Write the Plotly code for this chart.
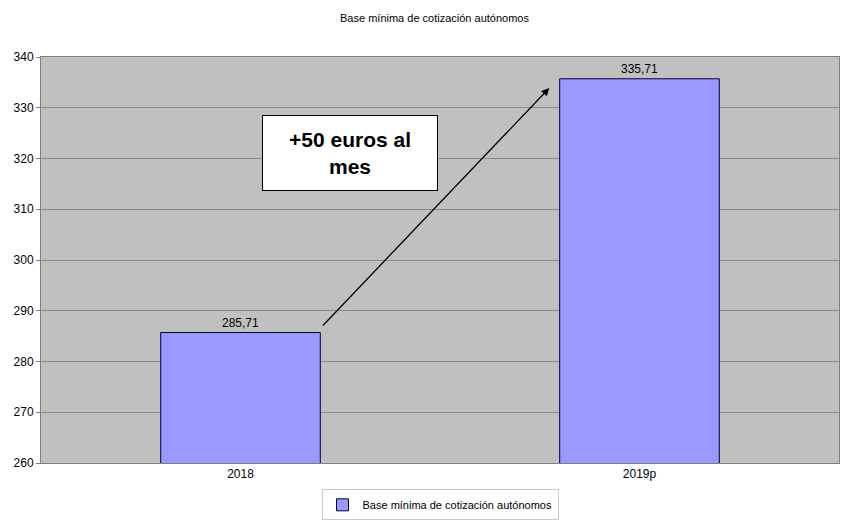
import plotly.graph_objects as go

# datos
categorias = ["2018", "2019p"]
valores = [285.71, 335.71]
serie = "Base mínima de cotización autónomos"
titulo = "Base mínima de cotización autónomos"
nota = "+50 euros al<br>mes"

fig = go.Figure()

fig.add_trace(go.Bar(
    x=categorias,
    y=valores,
    name=serie,
    width=0.4,
    marker=dict(color="#9999ff", line=dict(color="#000033", width=1)),
    text=[f"{v:.2f}".replace(".", ",") for v in valores],
    textposition="outside",
    textfont=dict(size=12, color="black"),
    cliponaxis=False,
    showlegend=True,
))

# flecha de 2018 a 2019p
fig.add_annotation(
    x=0.774, y=333.9, ax=0.203, ay=286.8,
    xref="x", yref="y", axref="x", ayref="y",
    text="", showarrow=True,
    arrowhead=2, arrowsize=1.2, arrowwidth=1.3, arrowcolor="black",
)

# recuadro de texto
fig.add_annotation(
    x=0.274, y=321.1, xref="x", yref="y",
    text=f"<b>{nota}</b>", showarrow=False,
    font=dict(size=21, color="black", family="Liberation Sans, Arial"),
    bgcolor="white", bordercolor="black", borderwidth=1,
    width=172, height=72, align="center",
)

# la página deja 8 px de margen en el body
fig.update_layout(
    title=dict(text=titulo, x=0.5, xanchor="center", y=1 - 10 / 512, yanchor="middle",
               font=dict(size=11, color="black")),
    font=dict(family="Liberation Sans, Arial", size=12, color="black"),
    separators=",.",
    paper_bgcolor="white",
    plot_bgcolor="#c0c0c0",
    margin=dict(l=33, r=22, t=49, b=57, autoexpand=False),
    width=853, height=512,
    bargap=0.6,
    legend=dict(orientation="h", x=0.5, xanchor="center", y=-0.103, yanchor="middle",
                bordercolor="#c8c8c8", borderwidth=1, bgcolor="white",
                font=dict(size=11), itemwidth=30, tracegroupgap=0),
)

fig.update_yaxes(
    range=[260, 340], dtick=10,
    showgrid=True, gridcolor="#8a8a8a", gridwidth=1,
    ticks="outside", ticklen=4, tickcolor="#808080",
    showline=True, linecolor="#808080", mirror=True,
    zeroline=False, automargin=False,
)
fig.update_xaxes(
    showline=True, linecolor="#808080", mirror=True,
    ticks="", showgrid=False, automargin=False,
)

fig.write_html("out.html")
